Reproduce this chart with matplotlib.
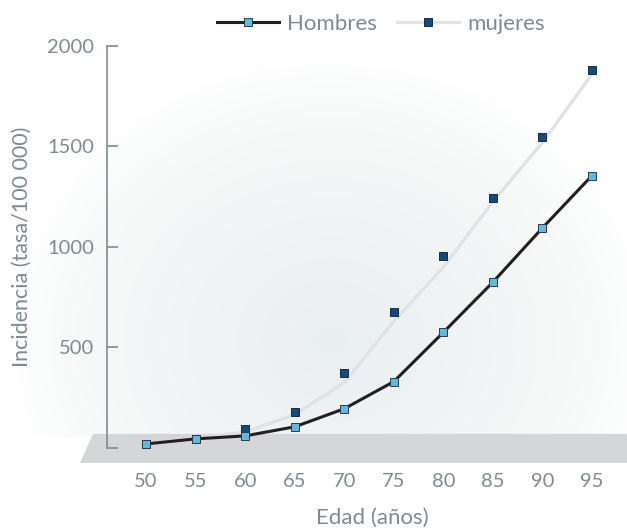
import matplotlib
matplotlib.use("Agg")
import matplotlib.pyplot as plt
import numpy as np
from matplotlib.lines import Line2D
from matplotlib.patches import Polygon

# data
edad = [50, 55, 60, 65, 70, 75, 80, 85, 90, 95]
hombres = [20, 45, 60, 105, 195, 330, 575, 825, 1095, 1355]
mujeres = [20, 45, 95, 180, 375, 675, 955, 1245, 1545, 1880]
# the grey line of "mujeres" is drawn a bit below its markers
mujeres_linea = [20, 45, 80, 165, 325, 630, 900, 1225, 1520, 1860]
yticks = [0, 500, 1000, 1500, 2000]
ytick_labels = ["", "500", "1000", "1500", "2000"]

gris = "#7d8b94"
plt.rcParams["font.family"] = ["Lato", "DejaVu Sans"]

fig = plt.figure(figsize=(6.27, 5.31), dpi=100)

# soft radial background
bg = fig.add_axes([0, 0, 1, 1], zorder=-2)
yy, xx = np.mgrid[0:531, 0:627]
r = np.sqrt(((xx - 330) / 320.0) ** 2 + ((yy - 340) / 280.0) ** 2)
shade = np.clip(1 - r, 0, 1) ** 0.7
shade[yy > 436] = 0
img = np.ones((531, 627, 3))
centro = np.array([0.915, 0.935, 0.935])
for c in range(3):
    img[:, :, c] = 1 - shade * (1 - centro[c])
bg.imshow(img, aspect="auto", interpolation="bilinear")
bg.axis("off")

ax = fig.add_axes([107 / 627, (531 - 463) / 531, 520 / 627, 417 / 531])
ax.patch.set_alpha(0)
ax.set_xlim(46.06, 98.53)
ax.set_ylim(-75, 2000)

# grey floor
floor = Polygon([[43.33, -75], [44.65, 70], [101, 70], [101, -75]],
                closed=True, facecolor="#d5d6d8", edgecolor="none",
                clip_on=False, zorder=0)
ax.add_patch(floor)

ax.plot(edad, mujeres_linea, color="#e1e2e4", lw=2.4, zorder=2,
        solid_capstyle="round")
ax.plot(edad, mujeres, ls="none", marker="s", ms=5.3, mfc="#0f4c86",
        mec="#1c2b3a", mew=0.7, zorder=3)
ax.plot(edad, hombres, color="#231f20", lw=2.2, marker="s", ms=5.3,
        mfc="#5cbbe3", mec="#2e3a44", mew=0.7, zorder=4)

for s in ["top", "right", "bottom"]:
    ax.spines[s].set_visible(False)
ax.spines["left"].set_bounds(0, 2000)
ax.spines["left"].set_color(gris)
ax.spines["left"].set_linewidth(1.2)

ax.set_yticks(yticks)
ax.set_yticklabels(ytick_labels)
ax.tick_params(axis="y", direction="in", length=8, width=1.2, color=gris,
               labelcolor=gris, labelsize=14.5, pad=9)
ax.set_xticks(edad)
ax.tick_params(axis="x", length=0, labelcolor=gris, labelsize=14.5, pad=7)

fig.text(22 / 627, 1 - 247 / 531, "Incidencia (tasa/100 000)", rotation=90,
         ha="center", va="center", color=gris, fontsize=15.5)
fig.text(372 / 627, 1 - 518 / 531, "Edad (años)", ha="center", va="center",
         color=gris, fontsize=16)

handles = [
    Line2D([], [], color="#231f20", lw=2.2, marker="s", ms=5.3,
           mfc="#5cbbe3", mec="#2e3a44", mew=0.7),
    Line2D([], [], color="#e1e2e4", lw=2.4, marker="s", ms=5.3,
           mfc="#0f4c86", mec="#1c2b3a", mew=0.7),
]
leg = fig.legend(handles, ["Hombres", "mujeres"], loc="center",
                 bbox_to_anchor=(381 / 627, 1 - 24 / 531), ncol=2,
                 frameon=False, fontsize=16, handlelength=2.8,
                 handletextpad=0.35, columnspacing=0.9)
for t in leg.get_texts():
    t.set_color(gris)

fig.savefig("out.png", dpi=100)
